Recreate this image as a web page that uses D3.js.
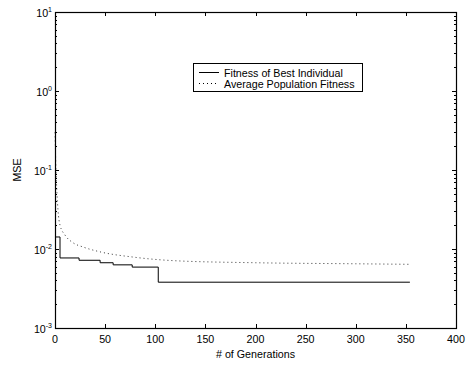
<!DOCTYPE html>
<html>
<head>
<meta charset="utf-8">
<script src="https://cdn.jsdelivr.net/npm/d3@7"></script>
<style>
  body { margin: 0; background: #fff; }
  text { font-family: "Liberation Sans", Arial, sans-serif; font-size: 10.7px; fill: #000; }
</style>
</head>
<body>
<script>
// best individual: step function (generation where value starts, value)
var bestGens = [0, 5, 24, 45, 58, 77, 103, 354];
var bestVals = [0.0142, 0.0077, 0.0072, 0.0067, 0.0063, 0.0059, 0.0038, 0.0038];

// average population fitness
var avgGens = [0, 1, 2, 3, 5, 10, 18, 28, 45, 78, 120, 200, 300, 354];
var avgVals = [0.3, 0.1, 0.05, 0.031, 0.02, 0.015, 0.012, 0.0106, 0.0092, 0.0079, 0.0071, 0.0067, 0.0065, 0.0064];

var xTicks = [0, 50, 100, 150, 200, 250, 300, 350, 400];
var yDecades = [-3, -2, -1, 0, 1];
var legendLabels = ["Fitness of Best Individual", "Average Population Fitness"];

var width = 467, height = 366;
// plot box edges (note: "top" is reserved on window, so prefix)
var pLeft = 55, pRight = 456, pTop = 12, pBottom = 328;

var x = d3.scaleLinear().domain([0, 400]).range([pLeft, pRight]);
var y = d3.scaleLog().domain([1e-3, 10]).range([pBottom, pTop]);

var svg = d3.select("body").append("svg")
    .attr("width", width)
    .attr("height", height);

// minor ticks on y (2..9 within every decade)
var minor = [];
yDecades.slice(0, -1).forEach(function(e) {
    for (var k = 2; k <= 9; k++) minor.push(k * Math.pow(10, e));
});

var g = svg.append("g");

// best individual line (step after)
var bestData = bestGens.map(function(d, i) { return [d, bestVals[i]]; });
g.append("path")
    .datum(bestData)
    .attr("fill", "none")
    .attr("stroke", "#000")
    .attr("stroke-width", 1)
    .attr("d", d3.line()
        .x(function(d) { return x(d[0]); })
        .y(function(d) { return y(d[1]); })
        .curve(d3.curveStepAfter));

// average fitness, dotted
var avgData = avgGens.map(function(d, i) { return [d, avgVals[i]]; });
g.append("path")
    .datum(avgData)
    .attr("fill", "none")
    .attr("stroke", "#333")
    .attr("stroke-width", 1)
    .attr("stroke-dasharray", "1,3")
    .attr("d", d3.line()
        .x(function(d) { return x(d[0]); })
        .y(function(d) { return y(d[1]); })
        .curve(d3.curveMonotoneX));

// box
svg.append("rect")
    .attr("x", pLeft + 0.5).attr("y", pTop + 0.5)
    .attr("width", pRight - pLeft).attr("height", pBottom - pTop)
    .attr("fill", "none").attr("stroke", "#000").attr("stroke-width", 1.2);

// x ticks (inward, bottom and top)
xTicks.forEach(function(t) {
    var px = Math.round(x(t)) + 0.5;
    svg.append("line").attr("x1", px).attr("x2", px)
        .attr("y1", pBottom).attr("y2", pBottom - 4).attr("stroke", "#000");
    svg.append("line").attr("x1", px).attr("x2", px)
        .attr("y1", pTop).attr("y2", pTop + 4).attr("stroke", "#000");
    svg.append("text").attr("x", x(t)).attr("y", pBottom + 15)
        .attr("text-anchor", "middle").text(t);
});

// y ticks
yDecades.forEach(function(e) {
    var py = Math.round(y(Math.pow(10, e))) + 0.5;
    svg.append("line").attr("x1", pLeft).attr("x2", pLeft + 4)
        .attr("y1", py).attr("y2", py).attr("stroke", "#000");
    svg.append("line").attr("x1", pRight).attr("x2", pRight - 4)
        .attr("y1", py).attr("y2", py).attr("stroke", "#000");
    var t = svg.append("text").attr("class", "ylab").attr("y", py + 4);
    t.append("tspan").text("10");
    t.append("tspan").attr("dy", -5).style("font-size", "7px").text(e);
    var w = t.node().getComputedTextLength();
    t.attr("x", pLeft - 3 - w);
});
minor.forEach(function(v) {
    var py = Math.round(y(v)) + 0.5;
    svg.append("line").attr("x1", pLeft).attr("x2", pLeft + 2)
        .attr("y1", py).attr("y2", py).attr("stroke", "#000");
    svg.append("line").attr("x1", pRight).attr("x2", pRight - 2)
        .attr("y1", py).attr("y2", py).attr("stroke", "#000");
});

// axis labels
svg.append("text").attr("x", (pLeft + pRight) / 2).attr("y", 358)
    .attr("text-anchor", "middle").text("# of Generations");
svg.append("text")
    .attr("transform", "translate(21," + ((pTop + pBottom) / 2) + ") rotate(-90)")
    .attr("text-anchor", "middle").text("MSE");

// legend
var lg = svg.append("g");
lg.append("rect").attr("x", 193.5).attr("y", 63.5).attr("width", 169).attr("height", 28)
    .attr("fill", "#fff").attr("stroke", "#000");
legendLabels.forEach(function(lab, i) {
    var ly = 72.5 + i * 11;
    lg.append("line").attr("x1", 199).attr("x2", 219).attr("y1", ly).attr("y2", ly)
        .attr("stroke", "#000")
        .attr("stroke-dasharray", i === 1 ? "1,3" : null);
    lg.append("text").attr("x", 224).attr("y", ly + 4).text(lab);
});
</script>
</body>
</html>
